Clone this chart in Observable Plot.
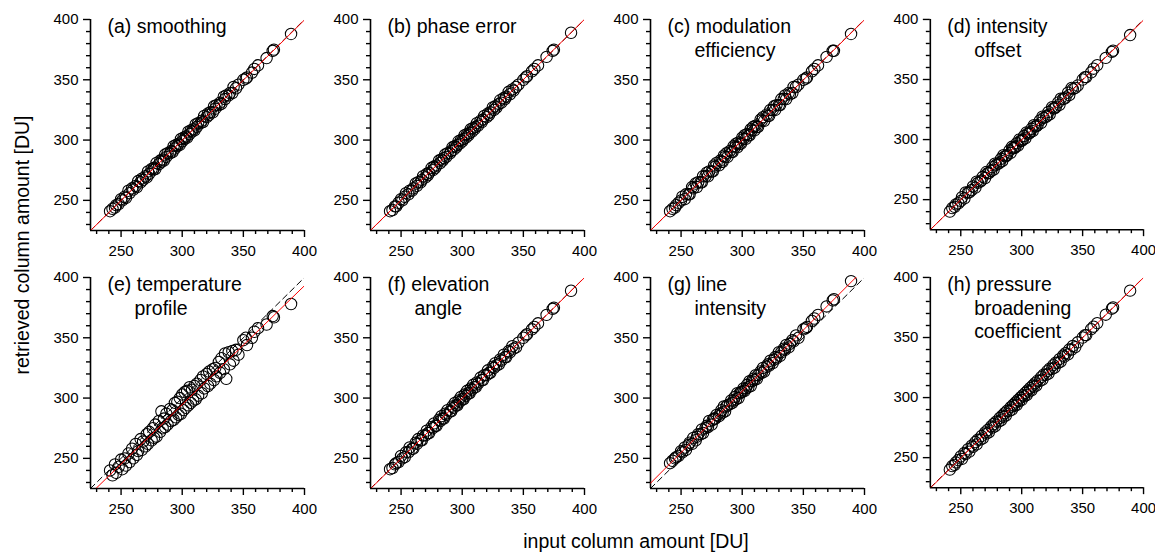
<!DOCTYPE html>
<html><head><meta charset="utf-8">
<script src="https://cdn.jsdelivr.net/npm/d3@7"></script>
<script src="https://cdn.jsdelivr.net/npm/@observablehq/plot@0.6"></script>
<style>
html,body{margin:0;padding:0;background:#fff;overflow:hidden;}
#wrap{position:relative;width:1155px;height:559px;font-family:Arial,"Liberation Sans",sans-serif;color:#000;}
.panel{position:absolute;}
.lab{position:absolute;white-space:nowrap;font-size:19.5px;transform:translate(-50%,-50%);}
.ylab{transform:translate(-50%,-50%) rotate(-90deg);}
</style></head>
<body><div id="wrap"></div>
<script>
// ---- data ----
const inputs = [241,243,245,246,248,250,251,253,254,256,257,259,260,262,263,264,266,267,268,270,271,272,273,275,276,277,278,279,281,282,283,284,285,286,287,288,290,291,292,293,294,295,296,297,298,299,300,301,302,303,304,305,306,307,308,309,310,311,312,313,315,316,317,318,320,321,322,323,325,326,327,328,330,331,332,334,335,336,338,339,341,342,344,346,350,352,353,357,359,362,369,374,375,389];

const retrievedA = [241,243,244,246,247,251,250,253,252,258,256,260,259,262,261,266,265,268,267,270,269,274,272,276,275,277,276,281,280,283,282,284,283,288,286,289,289,291,290,295,293,296,295,297,296,301,299,302,301,303,302,307,305,308,307,309,308,313,311,314,314,316,315,320,319,322,321,323,323,328,326,329,329,331,330,336,334,337,337,339,339,344,343,346,350,351,352,356,359,362,368,374,375,388];
const retrievedB = [241,242,245,245,248,251,250,253,256,255,258,258,260,264,262,265,265,267,270,269,272,271,273,277,275,278,277,279,283,281,284,283,285,288,286,289,289,291,294,292,295,294,296,299,297,300,299,301,304,302,305,304,306,309,307,310,309,311,314,312,316,315,317,320,319,322,321,323,327,325,328,327,330,333,331,335,334,336,340,338,342,341,344,346,350,352,353,357,359,362,369,374,375,389];
const retrievedC = [241,243,244,246,248,250,253,251,255,255,255,261,260,264,261,265,265,265,270,270,273,270,274,274,274,279,278,281,279,283,282,282,287,286,289,286,291,290,290,295,294,297,294,298,297,297,302,301,304,301,305,304,304,309,308,311,308,312,311,311,317,316,319,316,321,320,320,325,325,328,325,329,329,329,334,334,337,334,339,338,339,344,344,346,350,351,352,357,359,362,369,374,374,388];
const retrievedD = [240,243,244,246,247,249,252,251,256,256,256,258,261,260,265,264,265,266,269,268,273,272,272,274,277,275,280,279,280,281,284,282,287,286,286,287,291,289,294,293,293,294,297,295,300,299,299,300,303,301,306,305,305,306,309,307,312,311,311,312,316,314,319,318,319,320,323,321,327,326,326,327,331,329,334,334,334,335,339,337,343,342,343,345,350,352,352,356,359,362,368,373,374,387];
const retrievedE = [240,236,245,238,243,249,241,250,244,254,247,258,250,262,253,256,266,257,264,260,270,262,272,265,275,267,278,268,281,272,289,275,283,276,287,278,291,281,290,282,296,284,297,286,300,287,303,290,305,292,306,294,309,296,307,298,310,299,312,302,315,304,318,308,320,310,322,312,324,315,325,318,330,321,333,324,337,316,338,328,339,331,340,336,348,350,344,350,355,358,361,368,367,378];
const retrievedF = [241,242,245,246,247,252,250,251,255,255,259,258,258,263,262,266,265,265,269,269,273,271,271,276,275,279,277,277,282,281,285,283,283,287,286,290,289,289,293,292,296,294,294,298,297,301,299,299,303,302,306,304,304,308,307,311,309,309,313,312,317,315,315,319,319,323,321,321,326,325,329,327,328,332,331,336,334,334,339,338,343,341,342,346,350,352,353,357,359,362,369,374,375,389];
const retrievedG = [246,248,250,251,252,256,255,259,257,261,263,262,267,265,268,270,270,274,271,275,277,276,281,278,282,283,283,286,285,287,290,288,293,289,293,294,295,298,296,298,301,299,304,300,304,305,305,308,306,308,311,309,314,310,314,316,315,319,316,319,322,321,325,322,326,328,327,331,329,332,334,333,338,335,338,341,340,344,342,345,348,347,352,350,357,358,359,364,366,369,376,381,382,397];
const retrievedH = [240,243,244,246,248,251,249,254,253,257,255,260,259,263,261,265,265,268,266,271,270,273,271,276,275,278,276,280,280,283,281,285,284,287,285,289,289,292,290,294,293,296,294,298,297,300,298,302,301,304,302,306,305,308,306,310,309,312,310,314,314,317,315,319,319,322,320,324,324,327,325,329,329,332,330,335,334,337,336,340,340,343,342,346,350,352,352,357,359,362,369,374,375,389];

const retrieved = [retrievedA, retrievedB, retrievedC, retrievedD, retrievedE, retrievedF, retrievedG, retrievedH];
const titles = [["(a) smoothing"],["(b) phase error"],["(c) modulation","efficiency"],["(d) intensity","offset"],
                ["(e) temperature","profile"],["(f) elevation","angle"],["(g) line","intensity"],["(h) pressure","broadening","coefficient"]];
const domain = [225, 400];
const majorTicks = [250, 300, 350, 400];
const minorTicks = [230,240,260,270,280,290,310,320,330,340,360,370,380,390];
const xTitle = "input column amount [DU]";
const yTitle = "retrieved column amount [DU]";

// least-squares fit (red line)
function fit(xs, ys){
  const mx = d3.mean(xs), my = d3.mean(ys);
  let sxy = 0, sxx = 0;
  xs.forEach((x,i)=>{ sxy += (x-mx)*(ys[i]-my); sxx += (x-mx)*(x-mx); });
  const b = sxy/sxx; return {a: my - b*mx, b};
}

const wrap = document.getElementById("wrap");
const font = "Arial, 'Liberation Sans', sans-serif";

retrieved.forEach((ys, k) => {
  const col = k % 4, row = Math.floor(k / 4);
  const data = inputs.map((x,i)=>({input:x, retrieved:ys[i]}));
  const f = fit(inputs, ys);
  const fitLine = domain.map(x=>({x, y: f.a + f.b*x}));
  const oneLine = domain.map(v=>({x:v, y:v}));
  const textMarks = titles[k].map((t, j) => Plot.text([t], {
    frameAnchor:"top-left", text:d=>d, dx: j===0 ? 17 : 44, dy: 7 + 24*j,
    lineAnchor:"middle", textAnchor:"start", fontSize:19.5, fill:"black"
  }));
  const chart = Plot.plot({
    width: 276, height: 258,
    marginLeft: 50, marginRight: 12, marginTop: 14, marginBottom: 33,
    x: {domain}, y: {domain},
    style: {fontFamily: font, fontSize: "15px", color: "black", background: "transparent", overflow: "visible"},
    marks: [
      Plot.axisX(minorTicks, {tickSize: 4, strokeWidth: 1.4, tickFormat: () => ""}),
      Plot.axisX(majorTicks, {tickSize: 7, tickPadding: 8, strokeWidth: 1.4, fontSize: 15}),
      Plot.axisY(minorTicks, {tickSize: 4, strokeWidth: 1.4, tickFormat: () => ""}),
      Plot.axisY(majorTicks, {tickSize: 7, tickPadding: 5, strokeWidth: 1.4, fontSize: 15}),
      Plot.ruleX([domain[0]], {strokeWidth: 1.6}),
      Plot.ruleY([domain[0]], {strokeWidth: 1.6}),
      Plot.dot(data, {x:"input", y:"retrieved", r:5.7, stroke:"black", fill:"none", strokeWidth:1.05}),
      Plot.line(oneLine, {x:"x", y:"y", stroke:"black", strokeWidth:1, strokeDasharray:"6,4", clip:true}),
      Plot.line(fitLine, {x:"x", y:"y", stroke:"red", strokeWidth:1, clip:true}),
      ...textMarks
    ]
  });
  const div = document.createElement("div");
  div.className = "panel";
  div.style.left = (40 + 280*col) + "px";
  div.style.top = (5 + 258.3*row) + "px";
  div.appendChild(chart);
  wrap.appendChild(div);
});

const xl = document.createElement("div");
xl.className = "lab"; xl.textContent = xTitle;
xl.style.left = "636px"; xl.style.top = "541px";
wrap.appendChild(xl);
const yl = document.createElement("div");
yl.className = "lab ylab"; yl.textContent = yTitle;
yl.style.left = "22px"; yl.style.top = "245px";
wrap.appendChild(yl);
</script>
</body></html>
